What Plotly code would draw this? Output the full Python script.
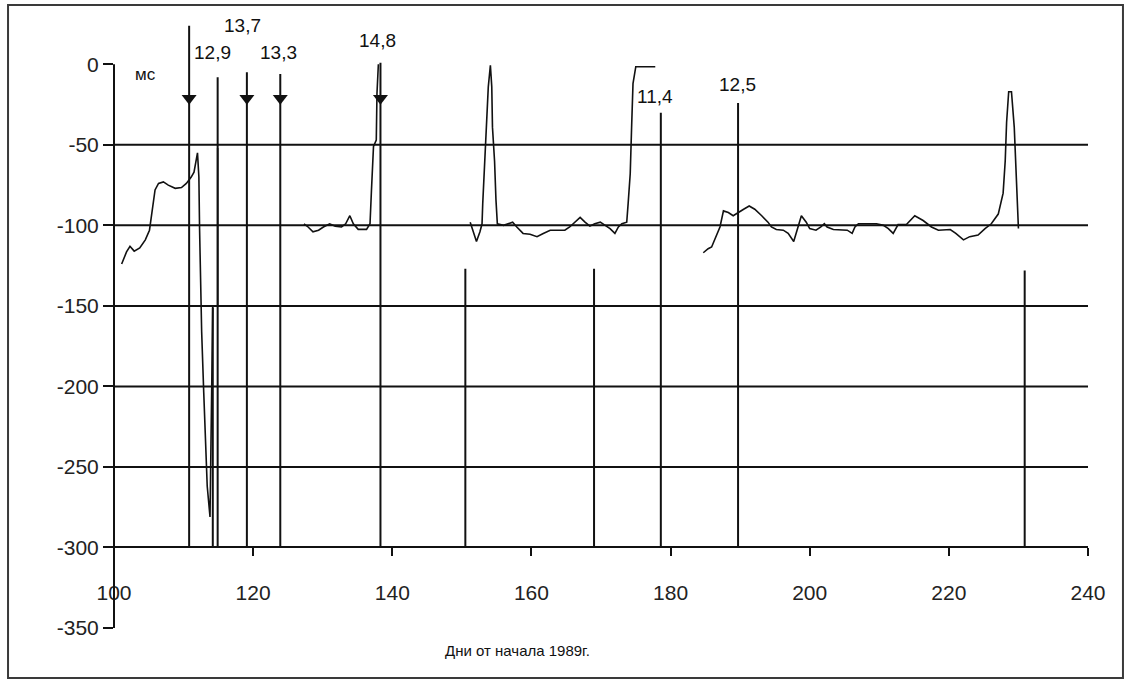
import plotly.graph_objects as go

# Delay series (ms) by day from the start of 1989, split into observation runs
seg1_days = [101.1, 101.8, 102.3, 102.9, 103.7, 104.5, 105.1, 105.3, 105.6, 105.9,
             106.4, 107.1, 107.8, 108.8, 109.7, 110.4, 111.1, 111.5, 112.0, 112.2,
             112.3, 112.4, 112.6, 112.9, 113.2, 113.4, 113.8, 114.2, 114.9, 114.9]
seg1_vals = [-124, -116.5, -113, -116, -114, -109, -103, -97, -88.6, -78,
             -74, -73, -75, -77, -76.5, -74, -70, -67, -55, -70,
             -102, -132, -166, -204, -244, -262, -281, -150, -150, -52]

seg2_days = [127.3, 127.9, 128.6, 129.4, 130.1, 131.0, 131.8, 132.7, 133.3, 133.9,
             134.4, 135.1, 136.3, 136.8, 137.0, 137.3, 137.7, 137.8, 138.0]
seg2_vals = [-99, -101, -104, -103, -101, -99, -100.5, -101, -99, -94,
             -99, -102.5, -102.5, -99, -79, -51, -47, -18, 0]

seg3_days = [151.2, 151.6, 152.1, 152.6, 152.9, 153.0, 153.2, 153.5, 153.8, 154.1,
             154.3, 154.4, 154.7, 154.9, 155.1, 156.0, 156.7, 157.3, 157.9, 158.8,
             159.8, 160.8, 161.7, 162.7, 163.6, 164.8, 165.5, 166.3, 167.0, 167.7,
             168.4, 169.1, 169.9, 170.6, 171.3, 172.0, 172.5, 173.0, 173.7, 173.9,
             174.2, 174.4, 174.6, 175.0, 177.8]
seg3_vals = [-98, -103, -110, -104, -99, -86.5, -66, -39, -14, -0.6,
             -14, -39, -60, -84, -99, -100, -99, -98, -101, -105,
             -105.5, -107, -105, -103, -103, -103, -101, -98, -95, -98,
             -100.5, -99, -98, -100, -102, -105, -101, -99, -98, -86.5,
             -68, -39, -12, -1.5, -1.5]

seg4_days = [184.7, 185.4, 185.9, 186.6, 187.1, 187.6, 188.3, 189.0, 189.7, 190.5,
             191.3, 192.1, 193.1, 194.0, 194.5, 195.2, 196.2, 196.9, 197.7, 198.2,
             198.8, 199.5, 200.0, 200.9, 201.6, 202.1, 202.5, 203.4, 204.6, 205.4,
             206.1, 206.5, 207.0, 209.6, 210.6, 211.3, 212.0, 212.7, 213.9, 215.1,
             216.3, 217.5, 218.5, 220.2, 221.0, 222.1, 223.0, 224.2, 225.2, 226.1,
             227.1, 227.8, 228.1, 228.3, 228.6, 229.0, 229.4, 229.6, 229.8, 230.0]
seg4_vals = [-117, -114.5, -113.4, -106, -101, -91, -92, -94, -92, -90,
             -88, -90, -94, -98, -101, -102.6, -103, -105, -110, -102,
             -94, -98, -102, -103, -101, -99, -101, -102.6, -103, -103,
             -105, -101, -99, -99, -100, -102, -105, -99.5, -99.5, -94,
             -97, -101, -103, -102.6, -105, -109, -107, -106, -102, -99,
             -93, -80, -60, -36, -17, -17, -39, -64, -86.5, -102]

# Event markers: day, upper end of the vertical line, magnitude label
event_days = [110.8, 114.2, 114.9, 119.1, 123.9, 138.3, 150.5, 169.0, 178.6, 189.7, 230.9]
event_tops = [24, -151, -8, -5, -6, 1, -127, -127, -30, -24, -128]
arrow_days = [110.8, 119.1, 123.9, 138.3]
arrow_level = -21

mag_labels = ["13,7", "12,9", "13,3", "14,8", "11,4", "12,5"]
mag_x = [118.5, 114.1, 123.7, 137.9, 177.8, 189.6]
mag_y = [24.2, 7.4, 7.4, 14.9, -19.9, -12.4]

x_ticks = [100, 120, 140, 160, 180, 200, 220, 240]
y_ticks = [0, -50, -100, -150, -200, -250, -300, -350]
grid_levels = [-50, -100, -150, -200, -250]
base_level = -300

FONT = "Arial, Liberation Sans, sans-serif"
INK = "#111111"

def join_segments(*pairs):
    xs, ys = [], []
    for d, v in pairs:
        if xs:
            xs.append(None)
            ys.append(None)
        xs.extend(d)
        ys.extend(v)
    return xs, ys

cx, cy = join_segments((seg1_days, seg1_vals), (seg2_days, seg2_vals),
                       (seg3_days, seg3_vals), (seg4_days, seg4_vals))

fig = go.Figure()

# Vertical event lines from the baseline up to their tops
ex, ey = [], []
for d, t in zip(event_days, event_tops):
    ex += [d, d, None]
    ey += [base_level, t, None]
fig.add_trace(go.Scatter(x=ex, y=ey, mode="lines",
                         line=dict(color=INK, width=2), hoverinfo="skip",
                         showlegend=False))

# Delay curve
fig.add_trace(go.Scatter(x=cx, y=cy, mode="lines",
                         line=dict(color=INK, width=1.6), hoverinfo="skip",
                         showlegend=False))

# Arrowheads on the main events
fig.add_trace(go.Scatter(x=arrow_days, y=[arrow_level] * len(arrow_days),
                         mode="markers",
                         marker=dict(symbol="triangle-down", size=13, color=INK),
                         hoverinfo="skip", showlegend=False, cliponaxis=False))

# Horizontal reference lines
shapes = []
for g in grid_levels:
    shapes.append(dict(type="line", xref="paper", yref="y", x0=0, x1=1, y0=g, y1=g,
                       line=dict(color=INK, width=2), layer="below"))
# Vertical value axis from -350 up to 0
shapes.append(dict(type="line", xref="paper", yref="y", x0=0, x1=0,
                   y0=y_ticks[-1], y1=y_ticks[0], line=dict(color=INK, width=2)))
# Outer frame
shapes.append(dict(type="rect", xref="paper", yref="paper",
                   x0=-0.1088, x1=1.0359, y0=-0.0818, y1=1.018,
                   line=dict(color="#3a3a3a", width=2)))

annotations = []
for txt, x, y in zip(mag_labels, mag_x, mag_y):
    annotations.append(dict(x=x, y=y, xref="x", yref="y", text=txt, showarrow=False,
                            font=dict(family=FONT, size=19, color=INK)))
annotations.append(dict(x=104.5, y=-6.2, xref="x", yref="y", text="мс", showarrow=False,
                        font=dict(family=FONT, size=17, color=INK)))
annotations.append(dict(x=0.414, y=-0.036, xref="paper", yref="paper",
                        xanchor="center", yanchor="middle",
                        text="Дни от начала 1989г.", showarrow=False,
                        font=dict(family=FONT, size=15, color=INK)))

y_lo, y_hi = -350, 30
fig.update_layout(
    width=1131, height=687,
    margin=dict(l=114, r=43, t=16, b=59),
    paper_bgcolor="white", plot_bgcolor="white",
    showlegend=False,
    shapes=shapes, annotations=annotations,
    xaxis=dict(range=[100, 240], tickvals=x_ticks, ticktext=[str(v) for v in x_ticks],
               anchor="free", position=(base_level - y_lo) / (y_hi - y_lo),
               showline=True, linecolor=INK, linewidth=2,
               ticks="outside", ticklen=8, tickwidth=2, tickcolor=INK,
               ticklabelstandoff=18,
               showgrid=False, zeroline=False,
               tickfont=dict(family=FONT, size=21, color="#222222")),
    yaxis=dict(range=[y_lo, y_hi], tickvals=y_ticks, ticktext=[str(v) for v in y_ticks],
               showline=False, ticks="outside", ticklen=10, tickwidth=2, tickcolor=INK,
               showgrid=False, zeroline=False,
               tickfont=dict(family=FONT, size=21, color="#222222")),
)

fig.write_html("out.html")
